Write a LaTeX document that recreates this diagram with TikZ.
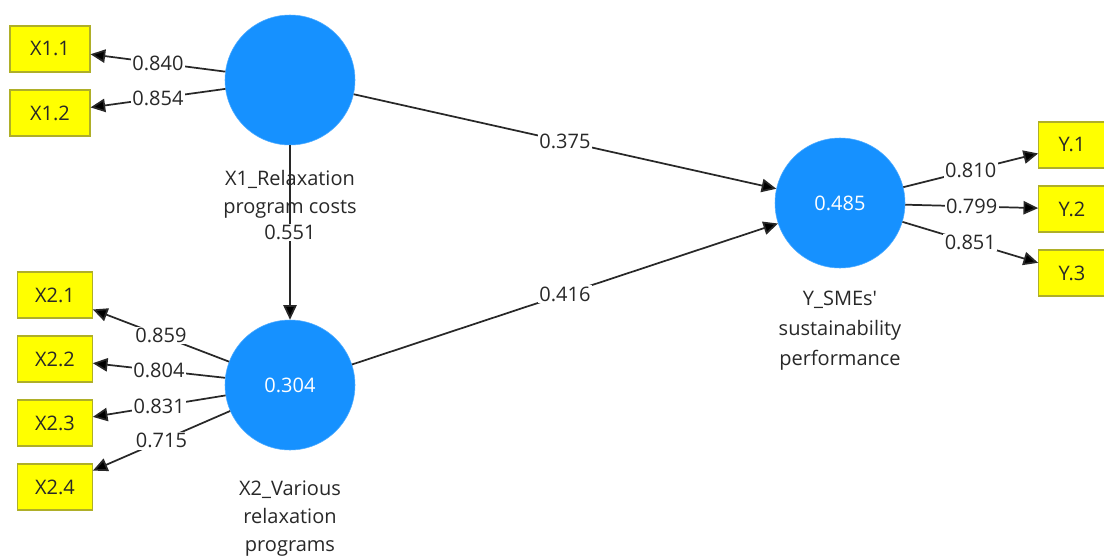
\documentclass[tikz,border=0pt]{standalone}
\usepackage{fontspec}
\setmainfont{Open Sans}
\usetikzlibrary{arrows.meta, positioning}
\definecolor{lvblue}{RGB}{22,145,255}
\definecolor{mvyellow}{RGB}{255,255,0}
\definecolor{mvborder}{RGB}{175,175,40}
\definecolor{txt}{RGB}{40,40,40}

\begin{document}
\begin{tikzpicture}[x=0.75pt, y=-0.75pt, node distance=48pt, on grid,
        font=\fontsize{15}{21}\selectfont,
        latent/.style={circle, fill=lvblue, draw=lvblue!75, minimum size=97.5pt, text=white},
        ind/.style={rectangle, fill=mvyellow, draw=mvborder, line width=0.8pt, minimum width=60pt, minimum height=34.5pt, text=txt},
        captext/.style={align=center, text=txt},
        coef/.style={fill=white, inner sep=1pt, text=txt}]
        \useasboundingbox (0,0) rectangle (1104,557);

        \node[latent] (x_1) at (290,80)  {};
        \node[latent] (x_2) at (290,385) {0.304};
        \node[latent] (y)   at (840,203) {0.485};

        \node[ind] (i_11) at (50,49)      {X1.1};
        \node[ind] (i_12) [below=of i_11] {X1.2};
        \node[ind, minimum width=56pt] (i_21) at (55,295)   {X2.1};
        \node[ind, minimum width=56pt] (i_22) [below=of i_21] {X2.2};
        \node[ind, minimum width=56pt] (i_23) [below=of i_22] {X2.3};
        \node[ind, minimum width=56pt] (i_24) [below=of i_23] {X2.4};
        \node[ind, minimum width=50pt] (j_1) at (1072,145)  {Y.1};
        \node[ind, minimum width=50pt] (j_2) [below=of j_1] {Y.2};
        \node[ind, minimum width=50pt] (j_3) [below=of j_2] {Y.3};

        \path[-{Triangle[length=11pt, width=10pt]}, line width=1.3pt, draw=txt]
        (x_1) edge node[coef] {0.840} (i_11)
        (x_1) edge node[coef] {0.854} (i_12)
        (x_2) edge node[coef] {0.859} (i_21)
        (x_2) edge node[coef] {0.804} (i_22)
        (x_2) edge node[coef] {0.831} (i_23)
        (x_2) edge node[coef] {0.715} (i_24)
        (y) edge node[coef] {0.810} (j_1)
        (y) edge node[coef] {0.799} (j_2)
        (y) edge node[coef] {0.851} (j_3)
        (x_1) edge node[coef] {0.551} (x_2)
        (x_1) edge node[coef] {0.375} (y)
        (x_2) edge node[coef] {0.416} (y)
        ;

        \node[captext] (c_1) at (290,194) {X1\_Relaxation\\program costs};
        \node[captext] (c_2) at (290,519) {X2\_Various\\relaxation\\programs};
        \node[captext, font=\fontsize{15}{22.5}\selectfont] (c_3) at (840,331) {Y\_SMEs\textquotesingle\\sustainability\\performance};
    \end{tikzpicture}
\end{document}
